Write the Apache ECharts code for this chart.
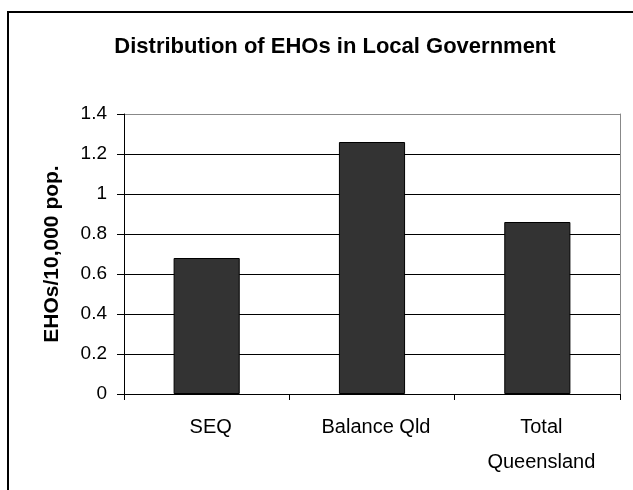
<!DOCTYPE html>
<html>
<head>
<meta charset="utf-8">
<script src="https://cdn.jsdelivr.net/npm/echarts@6/dist/echarts.min.js"></script>
<style>
html,body{margin:0;padding:0;background:#fff;}
#chart{width:633px;height:490px;}
</style>
</head>
<body>
<div id="chart"></div>
<script>
var categories = ['SEQ', 'Balance Qld', 'Total\nQueensland'];
var values = [0.68, 1.26, 0.86];
var yTicks = [0, 0.2, 0.4, 0.6, 0.8, 1, 1.2, 1.4];

var chart = echarts.init(document.getElementById('chart'));
var font = '"Liberation Sans", Arial, sans-serif';

// grid lines: all black except the top one (plot border, grey)
var splitColors = yTicks.map(function(v, i){ return i == yTicks.length - 1 ? '#888888' : '#000000'; });

chart.setOption({
    animation: false,
    backgroundColor: '#ffffff',
    title: {
        text: 'Distribution of EHOs in Local Government',
        left: 330, top: 31, textAlign: 'center',
        textStyle: {fontFamily: font, fontSize: 22, fontWeight: 'bold', color: '#000'}
    },
    graphic: [{
        type: 'rect', silent: true,
        shape: {x: 8, y: 12, width: 700, height: 600},
        style: {fill: 'none', stroke: '#000', lineWidth: 2}
    }],
    grid: {left: 124, right: 13, top: 114, bottom: 96},
    xAxis: {
        type: 'category',
        data: categories,
        axisLine: {lineStyle: {color: '#000', width: 1}},
        axisTick: {show: true, length: 6, lineStyle: {color: '#000'}},
        axisLabel: {fontFamily: font, fontSize: 20, color: '#000', margin: 16, lineHeight: 35,
            padding: [0, 0, 0, 8]}
    },
    yAxis: [{
        type: 'value',
        min: 0, max: 1.4, interval: 0.2,
        name: 'EHOs/10,000 pop.',
        nameLocation: 'middle',
        nameGap: 61,
        nameTextStyle: {fontFamily: font, fontSize: 21, fontWeight: 'bold', color: '#000'},
        axisLine: {show: true, lineStyle: {color: '#000', width: 1}},
        axisTick: {show: true, length: 7, lineStyle: {color: '#000'}},
        axisLabel: {fontFamily: font, fontSize: 19, color: '#000', margin: 17},
        splitLine: {show: true, lineStyle: {color: splitColors, width: 1}}
    }, {
        type: 'value',
        position: 'right',
        min: 0, max: 1.4,
        axisLine: {show: true, lineStyle: {color: '#888888', width: 1}},
        axisTick: {show: false},
        axisLabel: {show: false},
        splitLine: {show: false}
    }],
    series: [{
        type: 'bar',
        data: values,
        barWidth: '40%',
        itemStyle: {color: '#333333', borderColor: '#000', borderWidth: 1}
    }]
});
</script>
</body>
</html>
